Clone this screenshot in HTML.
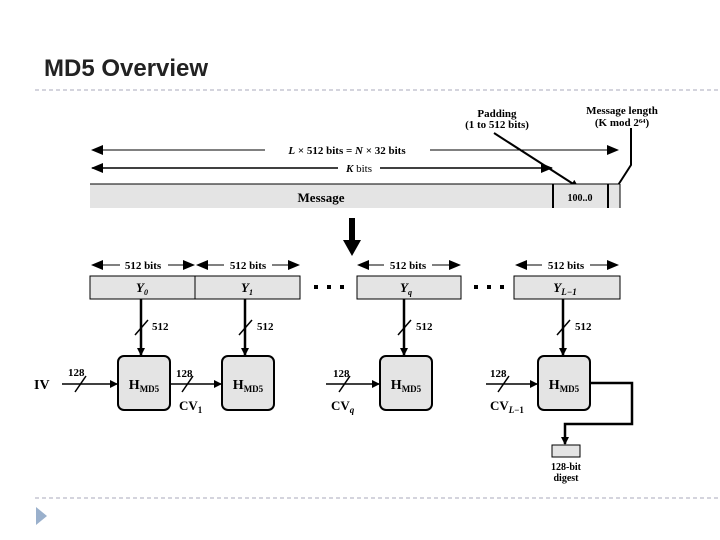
<html><head><style>body{margin:0;width:720px;height:540px;background:#fff;overflow:hidden}</style></head><body>
<svg width="720" height="540" xmlns="http://www.w3.org/2000/svg" font-family="Liberation Serif, serif">
<defs><marker id="a" markerWidth="8" markerHeight="8" refX="7" refY="4" orient="auto-start-reverse" markerUnits="userSpaceOnUse"><path d="M0,0 L8,4 L0,8 z" fill="#000"/></marker>
<marker id="b" markerWidth="12" markerHeight="10" refX="11" refY="5" orient="auto-start-reverse" markerUnits="userSpaceOnUse"><path d="M0,0 L12,5 L0,10 z" fill="#000"/></marker></defs>
<text x="44" y="76" font-family="Liberation Sans, sans-serif" font-size="24" font-weight="bold" fill="#222">MD5 Overview</text>
<line x1="35" y1="90" x2="720" y2="90" stroke="#aab" stroke-dasharray="4,3"/>
<line x1="35" y1="498" x2="720" y2="498" stroke="#aab" stroke-dasharray="4,3"/>
<path d="M36,507 L47,516 L36,525z" fill="#9ab0cc"/>
<g font-weight="bold" font-size="11" text-anchor="middle">
<text x="497" y="117">Padding</text><text x="497" y="128">(1 to 512 bits)</text>
<text x="622" y="114">Message length</text><text x="622" y="126">(K mod 2⁶⁴)</text>
</g>
<line x1="494" y1="133" x2="578" y2="187" stroke="#000" stroke-width="2" marker-end="url(#a)"/>
<polyline points="631,128 631,165 613,193" fill="none" stroke="#000" stroke-width="2" marker-end="url(#a)"/>
<line x1="92" y1="150" x2="618" y2="150" stroke="#000" marker-start="url(#b)" marker-end="url(#b)"/>
<rect x="265" y="144" width="165" height="12" fill="#fff"/>
<text x="347" y="154" font-size="11" font-weight="bold" text-anchor="middle"><tspan font-style="italic">L</tspan> × 512 bits = <tspan font-style="italic">N</tspan> × 32 bits</text>
<line x1="92" y1="168" x2="552" y2="168" stroke="#000" stroke-width="1.5" marker-start="url(#b)" marker-end="url(#b)"/>
<rect x="338" y="162" width="42" height="12" fill="#fff"/>
<text x="359" y="172" font-size="11" text-anchor="middle"><tspan font-weight="bold" font-style="italic">K</tspan> bits</text>
<rect x="90" y="184" width="530" height="30" fill="#e4e4e4"/>
<line x1="90" y1="184" x2="620" y2="184" stroke="#000"/>
<line x1="553" y1="184" x2="553" y2="208" stroke="#000" stroke-width="2"/>
<line x1="608" y1="184" x2="608" y2="208" stroke="#000" stroke-width="2"/>
<line x1="620" y1="184" x2="620" y2="208" stroke="#000"/>
<rect x="0" y="208" width="720" height="8" fill="#fff"/>
<text x="321" y="202" font-size="13" font-weight="bold" text-anchor="middle">Message</text>
<text x="580" y="201" font-size="10" font-weight="bold" text-anchor="middle">100..0</text>
<path d="M349,218 L355,218 L355,240 L361,240 L352,256 L343,240 L349,240z" fill="#000"/>
<g stroke="#000" marker-start="url(#b)" marker-end="url(#b)">
<line x1="92" y1="265" x2="194" y2="265"/><line x1="197" y1="265" x2="299" y2="265"/>
<line x1="358" y1="265" x2="460" y2="265"/><line x1="516" y1="265" x2="618" y2="265"/></g>
<g font-size="11" font-weight="bold" text-anchor="middle">
<rect x="120" y="259" width="48" height="12" fill="#fff"/><text x="143" y="269">512 bits</text>
<rect x="224" y="259" width="48" height="12" fill="#fff"/><text x="248" y="269">512 bits</text>
<rect x="384" y="259" width="48" height="12" fill="#fff"/><text x="408" y="269">512 bits</text>
<rect x="542" y="259" width="48" height="12" fill="#fff"/><text x="566" y="269">512 bits</text></g>
<g fill="#e4e4e4" stroke="#000"><rect x="90" y="276" width="105" height="23"/><rect x="195" y="276" width="105" height="23"/><rect x="357" y="276" width="104" height="23"/><rect x="514" y="276" width="106" height="23"/></g>
<g font-size="13" font-weight="bold" font-style="italic" text-anchor="middle">
<text x="142" y="292">Y<tspan font-size="8" dy="3">0</tspan></text><text x="247" y="292">Y<tspan font-size="8" dy="3">1</tspan></text>
<text x="406" y="292">Y<tspan font-size="8" dy="3">q</tspan></text><text x="565" y="292">Y<tspan font-size="9" dy="3">L−1</tspan></text></g>
<g fill="#000"><rect x="314" y="285" width="4" height="4"/><rect x="327" y="285" width="4" height="4"/><rect x="340" y="285" width="4" height="4"/>
<rect x="474" y="285" width="4" height="4"/><rect x="487" y="285" width="4" height="4"/><rect x="500" y="285" width="4" height="4"/></g>
<g stroke="#000" stroke-width="2.5">
<line x1="141" y1="299" x2="141" y2="355" marker-end="url(#a)"/><line x1="245" y1="299" x2="245" y2="355" marker-end="url(#a)"/>
<line x1="404" y1="299" x2="404" y2="355" marker-end="url(#a)"/><line x1="563" y1="299" x2="563" y2="355" marker-end="url(#a)"/>
<line x1="135" y1="335" x2="148" y2="320" stroke-width="1.5"/><line x1="239" y1="335" x2="252" y2="320" stroke-width="1.5"/>
<line x1="398" y1="335" x2="411" y2="320" stroke-width="1.5"/><line x1="557" y1="335" x2="570" y2="320" stroke-width="1.5"/></g>
<g font-size="11" font-weight="bold"><text x="152" y="330">512</text><text x="257" y="330">512</text><text x="416" y="330">512</text><text x="575" y="330">512</text>
<text x="68" y="376">128</text><text x="176" y="377">128</text><text x="333" y="377">128</text><text x="490" y="377">128</text></g>
<g fill="#e4e4e4" stroke="#000" stroke-width="2"><rect x="118" y="356" width="52" height="54" rx="6"/><rect x="222" y="356" width="52" height="54" rx="6"/><rect x="380" y="356" width="52" height="54" rx="6"/><rect x="538" y="356" width="52" height="54" rx="6"/></g>
<g font-size="14" font-weight="bold" text-anchor="middle"><text x="144" y="389">H<tspan font-size="9" dy="3">MD5</tspan></text><text x="248" y="389">H<tspan font-size="9" dy="3">MD5</tspan></text><text x="406" y="389">H<tspan font-size="9" dy="3">MD5</tspan></text><text x="564" y="389">H<tspan font-size="9" dy="3">MD5</tspan></text></g>
<text x="34" y="389" font-size="14" font-weight="bold">IV</text>
<g stroke="#000" stroke-width="1.5">
<line x1="62" y1="384" x2="117" y2="384" marker-end="url(#a)"/><line x1="170" y1="384" x2="221" y2="384" marker-end="url(#a)"/>
<line x1="326" y1="384" x2="379" y2="384" marker-end="url(#a)"/><line x1="486" y1="384" x2="537" y2="384" marker-end="url(#a)"/>
<line x1="75" y1="392" x2="86" y2="376"/><line x1="182" y1="392" x2="193" y2="376"/><line x1="339" y1="392" x2="350" y2="376"/><line x1="498" y1="392" x2="509" y2="376"/></g>
<g font-size="13" font-weight="bold"><text x="179" y="410">CV<tspan font-size="9" dy="3">1</tspan></text><text x="331" y="410">CV<tspan font-size="9" dy="3" font-style="italic">q</tspan></text><text x="490" y="410">CV<tspan font-size="9" dy="3" font-style="italic">L</tspan><tspan font-size="9">−1</tspan></text></g>
<polyline points="590,383 632,383 632,424 565,424 565,444" fill="none" stroke="#000" stroke-width="2.5" marker-end="url(#a)"/>
<rect x="552" y="445" width="28" height="12" fill="#e4e4e4" stroke="#000"/>
<g font-size="10" font-weight="bold" text-anchor="middle"><text x="566" y="470">128-bit</text><text x="566" y="481">digest</text></g>
</svg></body></html>
